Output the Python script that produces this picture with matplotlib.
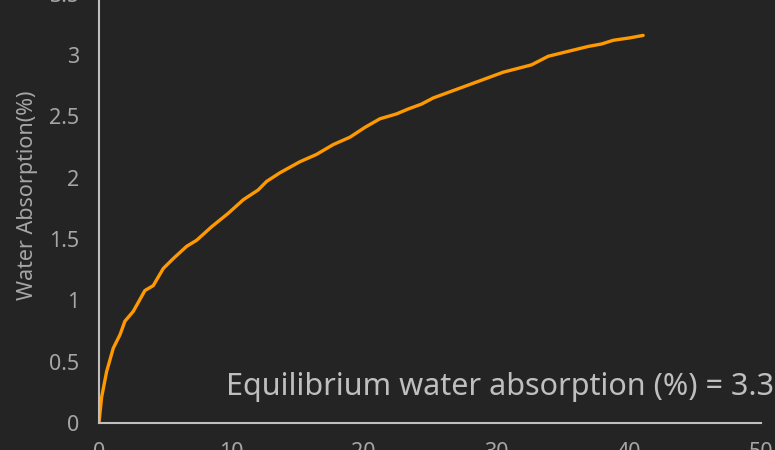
import matplotlib
matplotlib.use("Agg")
import matplotlib.pyplot as plt

# Time vs water absorption
time_h = [0.0, 0.2, 0.58, 1.08, 1.59, 1.96, 2.59, 3.47, 4.10, 4.86, 5.61, 6.62,
          7.38, 8.51, 9.77, 10.90, 12.03, 12.67, 13.67, 15.18, 16.44, 17.70,
          18.96, 20.09, 21.22, 22.48, 23.36, 24.37, 25.25, 26.51, 27.77, 28.78,
          30.54, 32.68, 33.94, 35.45, 36.96, 37.97, 38.84, 40.11, 41.11]
absorption = [0.0, 0.21, 0.42, 0.61, 0.72, 0.83, 0.91, 1.08, 1.12, 1.26, 1.34, 1.44,
              1.49, 1.60, 1.71, 1.82, 1.90, 1.97, 2.04, 2.13, 2.19, 2.27,
              2.33, 2.41, 2.48, 2.52, 2.56, 2.60, 2.65, 2.70, 2.75, 2.79,
              2.86, 2.92, 2.99, 3.03, 3.07, 3.09, 3.12, 3.14, 3.16]
x_ticks = [0, 10, 20, 30, 40, 50]
y_ticks = [0, 0.5, 1, 1.5, 2, 2.5, 3, 3.5]
y_tick_labels = ["0", "0.5", "1", "1.5", "2", "2.5", "3", "3.5"]
annotation = "Equilibrium water absorption (%) = 3.35"

BG = "#242424"
GRID_GREY = "#bfbfbf"
TEXT_GREY = "#a6a6a6"

plt.rcParams["font.family"] = ["Noto Sans", "DejaVu Sans"]

fig = plt.figure(figsize=(7.75, 4.5), dpi=100, facecolor=BG)
ax = fig.add_axes([0.1277, 0.06, 0.854, 0.954], facecolor=BG)

ax.plot(time_h, absorption, color="#ff9900", linewidth=2.4, solid_capstyle="round")

ax.set_xlim(0, 50)
ax.set_ylim(0, 3.5)
ax.set_xticks(x_ticks)
ax.set_yticks(y_ticks)
ax.set_yticklabels(y_tick_labels)
ax.tick_params(length=0, colors=TEXT_GREY, labelsize=15.5, pad=14)

for side in ("top", "right"):
    ax.spines[side].set_visible(False)
for side in ("left", "bottom"):
    ax.spines[side].set_color(GRID_GREY)
    ax.spines[side].set_linewidth(1.5)

fig.text(0.035, 0.567, "Water Absorption(%)", rotation=90, color=TEXT_GREY,
         fontsize=15.5, ha="center", va="center")

ax.text(9.6, 0.23, annotation, color=GRID_GREY, fontsize=22, va="baseline", ha="left")

fig.savefig("out.png", dpi=100, facecolor=BG)
